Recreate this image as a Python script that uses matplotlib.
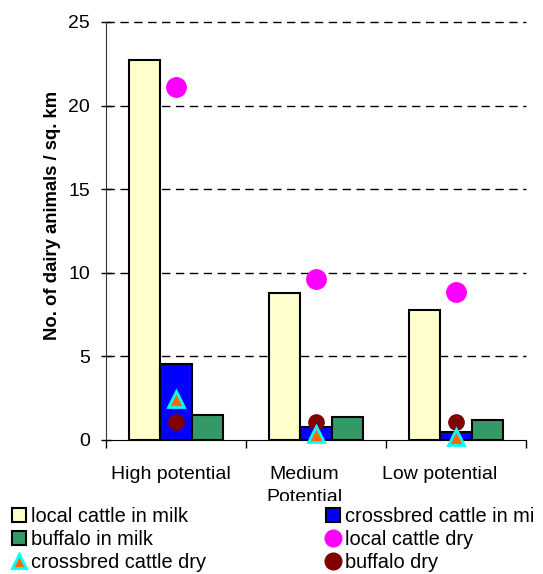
import numpy as np
import matplotlib
matplotlib.use("Agg")
import matplotlib.pyplot as plt
from matplotlib.lines import Line2D
from matplotlib.patches import Patch, Rectangle

plt.rcParams['font.family'] = ['Liberation Sans', 'DejaVu Sans']

# data
zones = ["High potential", "Medium\nPotential", "Low potential"]
local_milk = [22.7, 8.8, 7.8]
cross_milk = [4.55, 0.8, 0.5]
buffalo_milk = [1.5, 1.35, 1.2]
local_dry = [21.1, 9.65, 8.85]
cross_dry = [2.45, 0.35, 0.2]
buffalo_dry = [1.05, 1.05, 1.05]

fig = plt.figure(figsize=(5.43, 5.74), dpi=100)
ax = fig.add_axes([106/543, 1 - 440/574, 420/543, 418/574])

x = np.arange(len(zones))
w = 0.222
ax.bar(x - w, local_milk, w, color="#FFFFCC", edgecolor="black", linewidth=1.5, zorder=2)
ax.bar(x, cross_milk, w, color="#0000FF", edgecolor="black", linewidth=1.5, zorder=2)
ax.bar(x + w, buffalo_milk, w, color="#339966", edgecolor="black", linewidth=1.5, zorder=2)
ax.plot(x, local_dry, "o", color="#FF00FF", markersize=14, zorder=4, clip_on=False)
ax.plot(x, buffalo_dry, "o", color="#800000", markersize=11, zorder=4, clip_on=False)
ax.plot(x, cross_dry, "^", markerfacecolor="#FF6600", markeredgecolor="#00FFFF",
        markeredgewidth=2, markersize=11, zorder=5, clip_on=False)

ax.set_xlim(-0.5, 2.5)
ax.set_ylim(0, 25)
ax.set_yticks([0, 5, 10, 15, 20, 25])
ax.tick_params(axis="y", direction="inout", length=7.2, width=1, labelsize=14, pad=8)
ax.set_xticks([-0.5, 0.5, 1.5, 2.5])
ax.set_xticklabels([])
ax.tick_params(axis="x", which="major", direction="out", length=6, width=1)
# Excel puts the category labels slightly left of the group centres
ax.set_xticks(x - np.array([0.04, 0.085, 0.115]), minor=True)
ax.set_xticklabels(zones, minor=True, fontsize=14, linespacing=1.45)
ax.tick_params(axis="x", which="minor", length=0, pad=19)

for s in ["top", "right"]:
    ax.spines[s].set_visible(False)
ax.spines["left"].set_color("#333333")
for v in [5, 10, 15, 20, 25]:
    ax.axhline(v, color="black", linewidth=1, dashes=(6, 4), zorder=1, clip_on=False)

ax.set_ylabel("No. of dairy animals / sq. km", fontsize=13.3, fontweight="bold")
ax.yaxis.set_label_coords(-0.107, 0.538)

# white band under the legend hides the lower part of "Potential", as in the original
fig.add_artist(Rectangle((0, 0), 1, (574 - 501) / 574, transform=fig.transFigure,
                         facecolor="white", edgecolor="none", zorder=3))

handles = [
    Patch(facecolor="#FFFFCC", edgecolor="black", linewidth=1.5),
    Patch(facecolor="#339966", edgecolor="black", linewidth=1.5),
    Line2D([], [], linestyle="none", marker="^", markerfacecolor="#FF6600",
           markeredgecolor="#00FFFF", markeredgewidth=2, markersize=10),
    Patch(facecolor="#0000FF", edgecolor="black", linewidth=1.5),
    Line2D([], [], linestyle="none", marker="o", color="#FF00FF", markersize=12),
    Line2D([], [], linestyle="none", marker="o", color="#800000", markersize=12),
]
labels = ["local cattle in milk", "buffalo in milk", "crossbred cattle dry",
          "crossbred cattle in milk", "local cattle dry", "buffalo dry"]
fig.legend(handles, labels, ncol=2, loc="upper left",
           bbox_to_anchor=(8/543, 1 - 503/574), fontsize=14.4,
           frameon=False, borderpad=0.2, borderaxespad=0,
           handlelength=0.7, handleheight=0.7, handletextpad=0.25,
           columnspacing=6.0, labelspacing=0.2)

# the legend box in the original cuts the last label at its right edge
fig.add_artist(Rectangle((534/543, 0), 9/543, (574 - 501) / 574, transform=fig.transFigure,
                         facecolor="white", edgecolor="none", zorder=6))

fig.savefig("out.png", dpi=100)
